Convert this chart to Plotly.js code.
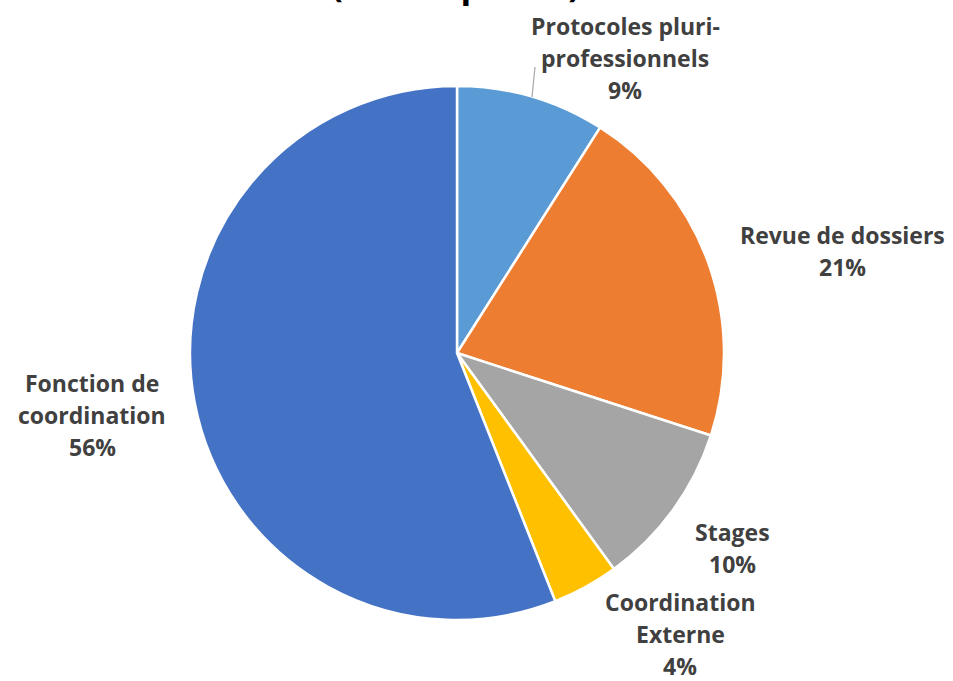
<!DOCTYPE html>
<html>
<head>
<meta charset="utf-8">
<script src="https://cdn.plot.ly/plotly-3.0.1.min.js"></script>
<style>html,body{margin:0;padding:0;background:#fff;}#chart{width:953px;height:681px;}</style>
</head>
<body>
<div id="chart"></div>
<script>
// Data
const categories = ["Protocoles pluri-professionnels", "Revue de dossiers", "Stages", "Coordination Externe", "Fonction de coordination"];
const labelLines = [["Protocoles pluri-", "professionnels"], ["Revue de dossiers"], ["Stages"], ["Coordination", "Externe"], ["Fonction de", "coordination"]];
const values = [9, 21, 10, 4, 56];
const colors = ["#5B9BD5", "#ED7D31", "#A5A5A5", "#FFC000", "#4472C4"];
const titleText = "(année pleine)";

// Label placement (layout, in pixels: center of the label block)
const labelPos = [
  {x: 625, y: 58},
  {x: 842, y: 251},
  {x: 732, y: 548},
  {x: 680, y: 634},
  {x: 92, y: 415}
];
const lineGap = 32;

const W = 953, H = 681;
const total = values.reduce((a, b) => a + b, 0);
const font = "Open Sans, Noto Sans, sans-serif";

const annotations = [];
categories.forEach((c, i) => {
  const lines = labelLines[i].concat([Math.round(values[i] / total * 100) + "%"]);
  const n = lines.length;
  lines.forEach((t, k) => {
    const py = labelPos[i].y + (k - (n - 1) / 2) * lineGap;
    annotations.push({
      text: "<b>" + t + "</b>",
      x: labelPos[i].x / W, y: 1 - py / H,
      xref: "paper", yref: "paper", showarrow: false,
      xanchor: "center", yanchor: "middle",
      font: {family: font, size: 23, color: "#404040"}
    });
  });
});
annotations.push({
  text: "<b>" + titleText + "</b>",
  x: 455 / W, y: 1 - 9 / H, xref: "paper", yref: "paper",
  showarrow: false, xanchor: "center", yanchor: "bottom",
  font: {family: font, size: 35, color: "#000"}
});

const trace = {
  type: "pie",
  labels: categories,
  values: values,
  sort: false,
  direction: "clockwise",
  rotation: 0,
  marker: {colors: colors, line: {color: "#fff", width: 2.5}},
  textinfo: "none",
  hoverinfo: "label+percent",
  domain: {x: [188 / W, 726 / W], y: [(H - 620) / H, (H - 86) / H]}
};

const layout = {
  width: W, height: H,
  margin: {l: 0, r: 0, t: 0, b: 0},
  paper_bgcolor: "#fff",
  showlegend: false,
  annotations: annotations,
  shapes: [{
    type: "line", xref: "paper", yref: "paper",
    x0: 535 / W, y0: 1 - 67 / H, x1: 532 / W, y1: 1 - 97 / H,
    line: {color: "#A6A6A6", width: 1.2}
  }]
};

Plotly.newPlot("chart", [trace], layout, {displayModeBar: false});
</script>
</body>
</html>
